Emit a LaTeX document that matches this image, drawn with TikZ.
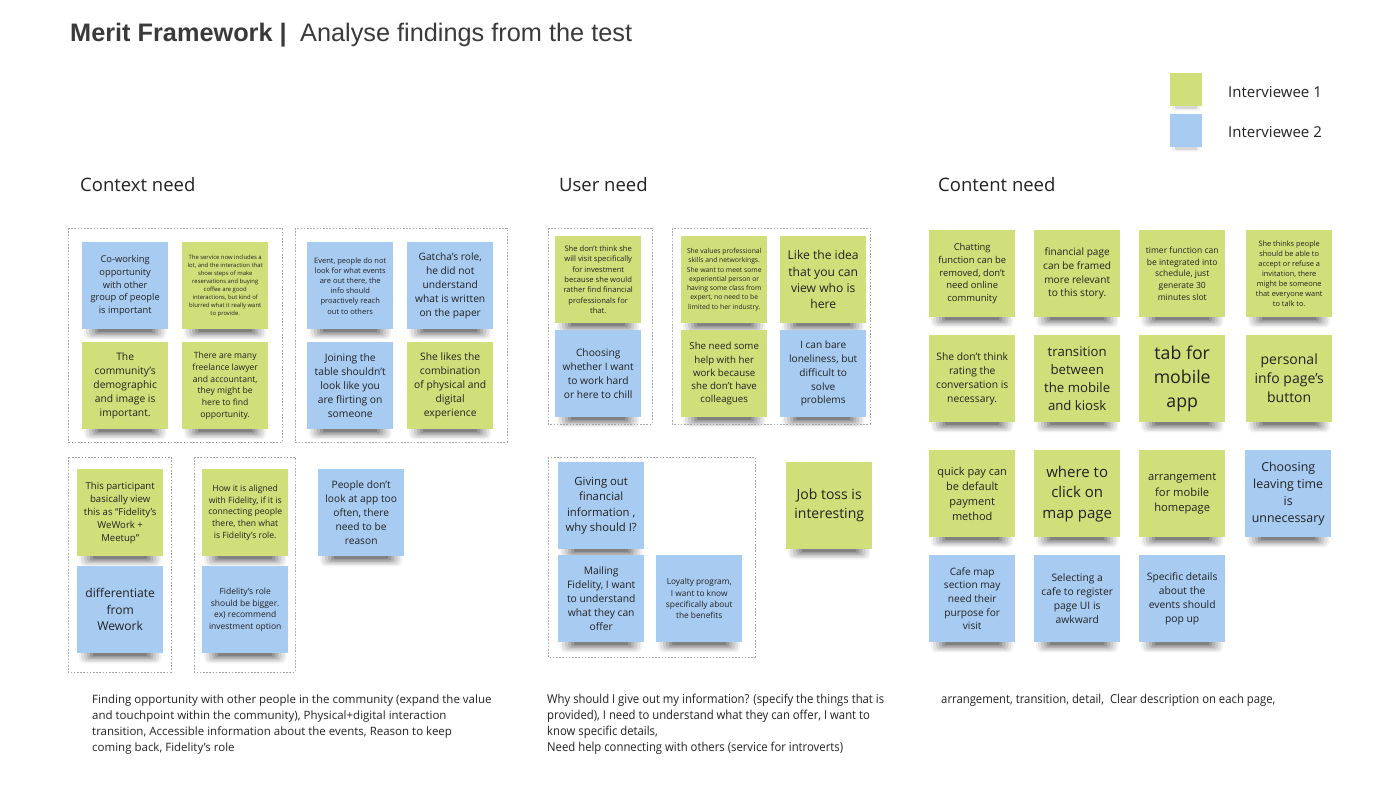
\documentclass[tikz,border=0pt]{standalone}
\usepackage{fontspec}
\setmainfont{Open Sans}
\newfontfamily\titlefont{Liberation Sans}
\newfontfamily\condfont[FakeStretch=0.92]{Open Sans}
\usetikzlibrary{calc}
\definecolor{ngreen}{RGB}{208,223,122}
\definecolor{nblue}{RGB}{168,203,242}
\definecolor{ntext}{RGB}{34,34,34}
\definecolor{titlec}{RGB}{58,58,58}
\definecolor{dashc}{RGB}{165,165,165}
\pgfdeclarelayer{paper}
\pgfdeclarelayer{bg}
\pgfsetlayers{paper,bg,main}
\tikzset{
  sticky/.style={minimum width=86pt, minimum height=87pt, inner sep=0pt, align=center, text=ntext, anchor=north west},
  groupbox/.style={draw=dashc, line width=0.8pt, dash pattern=on 1.6pt off 1.6pt},
  heading/.style={anchor=west, inner sep=0pt, text=ntext, font=\fontsize{18.5}{22}\selectfont},
  legendsq/.style={minimum width=32pt, minimum height=33pt, inner sep=0pt, anchor=north west},
  legendtxt/.style={anchor=west, inner sep=0pt, text=ntext, font=\fontsize{15}{18}\selectfont},
  summary/.style={anchor=north west, inner sep=0pt, align=left, text=ntext},
  shade1/.style={black,opacity=.05,rounded corners=6pt},
}
\newcommand\stk[6]{\node[sticky,fill=#4,font=\fontsize{#5}{\fpeval{1.36*#5}}\selectfont] (#1) at (#2,#3) {#6};}
\begin{document}
\begin{tikzpicture}[x=1pt,y=-1pt]
\useasboundingbox (0,0) rectangle (1400,788);
\begin{pgfonlayer}{paper}
\fill[white] (0,0) rectangle (1400,788);
\end{pgfonlayer}

% title
\node[anchor=base west, inner sep=0pt, text=titlec, font=\titlefont\bfseries\fontsize{25.3}{30}\selectfont] (t1) at (70,41) {Merit Framework |};
\node[anchor=base west, inner sep=0pt, text=titlec, font=\titlefont\fontsize{25.3}{30}\selectfont] (t2) at (300,41) {Analyse findings from the test};

% legend
\node[legendsq, fill=ngreen] (L1) at (1170,73) {};
\node[legendsq, fill=nblue] (L2) at (1170,114) {};
\node[legendtxt] (lt1) at (1228,92) {Interviewee 1};
\node[legendtxt] (lt2) at (1228,132) {Interviewee 2};

% headings
\node[heading] (h1) at (80,185) {Context need};
\node[heading] (h2) at (559,185) {User need};
\node[heading] (h3) at (938,185) {Content need};

% group boxes
\draw[groupbox] (68,228) rectangle (282,442);
\draw[groupbox] (295,228) rectangle (507,442);
\draw[groupbox] (68,457) rectangle (171,672);
\draw[groupbox] (194,457) rectangle (295,672);
\draw[groupbox] (548,228) rectangle (652,424);
\draw[groupbox] (672,228) rectangle (870,424);
\draw[groupbox] (548,457) rectangle (755,657);

% Context need notes
\stk{A1}{82}{242}{nblue}{9.3}{Co-working\\opportunity\\with other\\group of people\\is important}
\stk{A2}{182}{242}{ngreen}{5.9}{The service now includes a\\lot, and the interaction that\\show steps of make\\reservations and buying\\coffee are good\\interactions, but kind of\\blurred what it really want\\to provide.}
\stk{A3}{82}{342}{ngreen}{10.3}{The\\community’s\\demographic\\and image is\\important.}
\stk{A4}{182}{342}{ngreen}{8.6}{There are many\\freelance lawyer\\and accountant,\\they might be\\here to find\\opportunity.}
\stk{B1}{307}{242}{nblue}{7.5}{Event, people do not\\look for what events\\are out there, the\\info should\\proactively reach\\out to others}
\stk{B2}{407}{242}{nblue}{10.2}{Gatcha's role,\\he did not\\understand\\what is written\\on the paper}
\stk{B3}{307}{342}{nblue}{10.3}{Joining the\\table shouldn't\\look like you\\are flirting on\\someone}
\stk{B4}{407}{342}{ngreen}{10.3}{She likes the\\combination\\of physical and\\digital\\experience}
\stk{C1}{77}{469}{ngreen}{9.6}{This participant\\basically view\\this as “Fidelity’s\\WeWork +\\Meetup”}
\stk{C2}{77}{566}{nblue}{12.1}{differentiate\\from\\Wework}
\stk{C3}{202}{469}{ngreen}{8.6}{How it is aligned\\with Fidelity, if it is\\connecting people\\there, then what\\is Fidelity’s role.}
\stk{C4}{202}{566}{nblue}{8.5}{Fidelity’s role\\should be bigger.\\ex) recommend\\investment option}
\stk{C5}{318}{469}{nblue}{10.2}{People don't\\look at app too\\often, there\\need to be\\reason}

% User need notes
\stk{D1}{555}{236}{ngreen}{7.6}{She don't think she\\will visit specifically\\for investment\\because she would\\rather find financial\\professionals for\\that.}
\stk{D2}{555}{330}{nblue}{10.2}{Choosing\\whether I want\\to work hard\\or here to chill}
\stk{D3}{681}{236}{ngreen}{6.8}{She values professional\\skills and networkings.\\She want to meet some\\experiential person or\\having some class from\\expert, no need to be\\limited to her industry.}
\stk{D4}{681}{330}{ngreen}{9.7}{She need some\\help with her\\work because\\she don't have\\colleagues}
\stk{D5}{780}{236}{ngreen}{12.1}{Like the idea\\that you can\\view who is\\here}
\stk{D6}{780}{330}{nblue}{10.1}{I can bare\\loneliness, but\\difficult to\\solve\\problems}
\stk{E1}{558}{462}{nblue}{11.3}{Giving out\\financial\\information ,\\why should I?}
\stk{E2}{558}{555}{nblue}{10.3}{Mailing\\Fidelity, I want\\to understand\\what they can\\offer}
\stk{E3}{656}{555}{nblue}{8.3}{Loyalty program,\\I want to know\\specifically about\\the benefits}
\stk{E4}{786}{462}{ngreen}{14}{Job toss is\\interesting}

% Content need notes
\stk{F1}{929}{230}{ngreen}{9.4}{Chatting\\function can be\\removed, don't\\need online\\community}
\stk{F2}{1034}{230}{ngreen}{10.1}{financial page\\can be framed\\more relevant\\to this story.}
\stk{F3}{1139}{230}{ngreen}{8.5}{timer function can\\be integrated into\\schedule, just\\generate 30\\minutes slot}
\stk{F4}{1246}{230}{ngreen}{7.4}{She thinks people\\should be able to\\accept or refuse a\\invitation, there\\might be someone\\that everyone want\\to talk to.}
\stk{G1}{929}{335}{ngreen}{10.3}{She don't think\\rating the\\conversation is\\necessary.}
\stk{G2}{1034}{335}{ngreen}{13.2}{transition\\between\\the mobile\\and kiosk}
\stk{G3}{1139}{335}{ngreen}{17.7}{tab for\\mobile\\app}
\stk{G4}{1246}{335}{ngreen}{14}{personal\\info page’s\\button}
\stk{H1}{929}{450}{ngreen}{11}{quick pay can\\be default\\payment\\method}
\stk{H2}{1034}{450}{ngreen}{15}{where to\\click on\\map page}
\stk{H3}{1139}{450}{ngreen}{11.2}{arrangement\\for mobile\\homepage}
\stk{H4}{1245}{450}{nblue}{12.4}{Choosing\\leaving time\\is\\unnecessary}
\stk{I1}{929}{555}{nblue}{10.1}{Cafe map\\section may\\need their\\purpose for\\visit}
\stk{I2}{1034}{555}{nblue}{10.3}{Selecting a\\cafe to register\\page UI is\\awkward}
\stk{I3}{1139}{555}{nblue}{10.3}{Specific details\\about the\\events should\\pop up}

% summaries
\node[summary, font=\fontsize{11.5}{16}\selectfont] (s1) at (92,695) {Finding opportunity with other people in the community (expand the value\\and touchpoint within the community), Physical+digital interaction\\transition, Accessible information about the events, Reason to keep\\coming back, Fidelity's role};
\node[summary, font=\condfont\fontsize{12.3}{16}\selectfont] (s2) at (547,694) {Why should I give out my information? (specify the things that is\\provided), I need to understand what they can offer, I want to\\know specific details,\\Need help connecting with others (service for introverts)};
\node[summary, font=\condfont\fontsize{12.3}{16}\selectfont] (s3) at (941,694) {arrangement, transition, detail,\ \ Clear description on each page,};

% shadows
\begin{pgfonlayer}{bg}
\foreach \n in {A1,A2,A3,A4,B1,B2,B3,B4,C1,C2,C3,C4,C5,D1,D2,D3,D4,D5,D6,E1,E2,E3,E4,F1,F2,F3,F4,G1,G2,G3,G4,H1,H2,H3,H4,I1,I2,I3}{
  \fill[black,opacity=.05,rounded corners=6pt] ($(\n.south west)+(2,-4)$) rectangle ($(\n.south east)+(-2,10)$);
  \fill[black,opacity=.07,rounded corners=5pt] ($(\n.south west)+(4,-4)$) rectangle ($(\n.south east)+(-4,8.5)$);
  \fill[black,opacity=.09,rounded corners=4pt] ($(\n.south west)+(7,-4)$) rectangle ($(\n.south east)+(-7,7)$);
  \fill[black,opacity=.11,rounded corners=3pt] ($(\n.south west)+(10,-4)$) rectangle ($(\n.south east)+(-10,5.5)$);
  \fill[black,opacity=.14,rounded corners=2pt] ($(\n.south west)+(13,-4)$) rectangle ($(\n.south east)+(-13,4)$);
  \fill[black,opacity=.16,rounded corners=1pt] ($(\n.south west)+(16,-4)$) rectangle ($(\n.south east)+(-16,2.5)$);
}
\foreach \n in {L1,L2}{
  \fill[black,opacity=.06,rounded corners=2pt] ($(\n.south west)+(2,-3)$) rectangle ($(\n.south east)+(-2,4)$);
  \fill[black,opacity=.10,rounded corners=1pt] ($(\n.south west)+(5,-3)$) rectangle ($(\n.south east)+(-5,2.5)$);
}
\end{pgfonlayer}
\end{tikzpicture}
\end{document}
